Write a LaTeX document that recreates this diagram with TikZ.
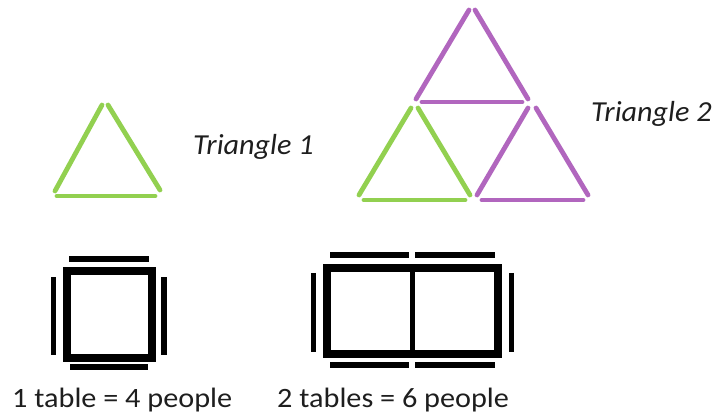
\documentclass[tikz,border=0pt]{standalone}
\usepackage{fontspec}
\setmainfont{Carlito}
\definecolor{stickgreen}{RGB}{146,208,80}
\definecolor{stickpurple}{RGB}{177,102,190}
\definecolor{inkc}{RGB}{30,30,30}
\begin{document}
\begin{tikzpicture}[x=1pt,y=-1pt,
  tri/.style={line width=4.8pt, line cap=round},
  gstick/.style={tri, draw=stickgreen},
  pstick/.style={tri, draw=stickpurple},
  tableframe/.style={draw=black, line width=8pt, line join=miter},
  tabledivider/.style={draw=black, line width=5pt},
  seatstick/.style={draw=black, line width=5.5pt, line cap=butt},
  lbl/.style={anchor=base west, inner sep=0pt, text=inkc, xscale=1.08, font=\fontsize{28}{30}\selectfont},
  tlbl/.style={anchor=base west, inner sep=0pt, text=inkc, xscale=1.04, font=\fontsize{29}{30}\selectfont\itshape}]
\useasboundingbox (0,0) rectangle (719,419);

% Triangle 1 (green)
\draw[gstick] (55,191) -- (102,105);
\draw[gstick] (108,105) -- (160,190);
\draw[gstick] (57,196) -- (155,196);

% Triangle 2: top purple
\draw[pstick] (469,10) -- (416,99);
\draw[pstick] (475,10) -- (528,99);
\draw[pstick] (422,102) -- (522,102);
% lower green
\draw[gstick] (411,108) -- (359,195);
\draw[gstick] (418,108) -- (470,195);
\draw[gstick] (364,200) -- (465,200);
% lower purple
\draw[pstick] (528,108) -- (477,195);
\draw[pstick] (536,108) -- (588,195);
\draw[pstick] (482,200) -- (583,200);

% Labels
\node[tlbl] (t1) at (193,155) {Triangle 1};
\node[tlbl] (t2) at (591,122) {Triangle 2};

% One table
\draw[tableframe] (66.7,271) rectangle (151.7,358);
\draw[seatstick] (69,259) -- (149,259);
\draw[seatstick] (70,367) -- (148,367);
\draw[seatstick] (53.5,277) -- (53.5,355);
\draw[seatstick] (164,277) -- (164,355);

% Two tables
\draw[tableframe] (326.5,268) rectangle (498,354);
\draw[tabledivider] (412.5,268) -- (412.5,354);
\draw[seatstick] (330,255) -- (409,255);
\draw[seatstick] (415,255) -- (495,255);
\draw[seatstick] (330,365) -- (409,365);
\draw[seatstick] (415,365) -- (495,365);
\draw[seatstick] (313.7,273) -- (313.7,352);
\draw[seatstick] (511.7,273) -- (511.7,352);

\node[lbl] (c1) at (12,407) {1 table = 4 people};
\node[lbl] (c2) at (277,407) {2 tables = 6 people};
\end{tikzpicture}
\end{document}
